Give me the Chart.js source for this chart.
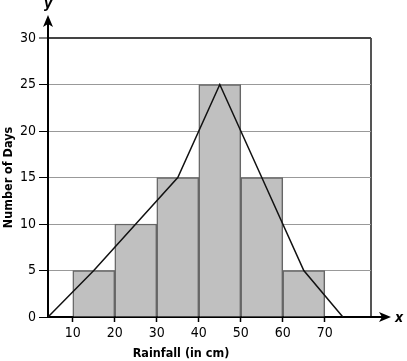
<!DOCTYPE html>
<html>
<head>
<meta charset="utf-8">
<script src="https://cdn.jsdelivr.net/npm/chart.js@4.4.0/dist/chart.umd.min.js"></script>
<style>
  body { margin: 0; background: #fff; }
  #wrap { width: 407px; height: 361px; }
</style>
</head>
<body>
<div id="wrap"><canvas id="rainChart" width="407" height="361"></canvas></div>
<script>
const binCenters = [15, 25, 35, 45, 55, 65];
const dayCounts = [5, 10, 15, 25, 15, 5];
// Polygone des effectifs (extrémités posées sur l'axe)
const polyX = [4.1, 15, 25, 35, 45, 55, 65, 74.3];
const polyY = [0, 5, 10, 15, 25, 15, 5, 0];
const xTicks = [10, 20, 30, 40, 50, 60, 70];
const xLabel = 'Rainfall (in cm)';
const yLabel = 'Number of Days';

const FONT = '"DejaVu Sans Condensed", "DejaVu Sans", sans-serif';
const X_MAX = 81;

// Flèches des axes + titre de l'axe x
const axesDecor = {
    id: 'axesDecor',
    afterDraw(chart) {
        const ctx = chart.ctx;
        const area = chart.chartArea;
        const x0 = chart.scales.x.getPixelForValue(chart.scales.x.min);
        const y0 = chart.scales.y.getPixelForValue(0);
        ctx.save();
        ctx.strokeStyle = '#000';
        ctx.fillStyle = '#000';
        ctx.lineWidth = 2;

        // flèche verticale
        ctx.beginPath();
        ctx.moveTo(x0, area.top);
        ctx.lineTo(x0, 22);
        ctx.stroke();
        ctx.beginPath();
        ctx.moveTo(x0, 15);
        ctx.lineTo(x0 + 5, 27);
        ctx.lineTo(x0, 24);
        ctx.lineTo(x0 - 5, 27);
        ctx.closePath();
        ctx.fill();

        // flèche horizontale
        ctx.beginPath();
        ctx.moveTo(area.right, y0);
        ctx.lineTo(384, y0);
        ctx.stroke();
        ctx.beginPath();
        ctx.moveTo(391, y0);
        ctx.lineTo(379, y0 - 5);
        ctx.lineTo(382, y0);
        ctx.lineTo(379, y0 + 5);
        ctx.closePath();
        ctx.fill();

        // lettres x et y
        ctx.font = 'italic bold 14px ' + FONT;
        ctx.textAlign = 'center';
        ctx.textBaseline = 'middle';
        ctx.fillText('y', x0, 4);
        ctx.fillText('x', 399, y0 + 1);

        // titre axe x
        ctx.font = 'bold 12.5px ' + FONT;
        ctx.fillText(xLabel, 181, 354);
        ctx.restore();
    }
};

const config = {
    data: {
        datasets: [{
            type: 'line',
            data: polyX.map((x, i) => ({ x: x, y: polyY[i] })),
            borderColor: '#111',
            borderWidth: 1.5,
            pointRadius: 0,
            tension: 0,
            fill: false,
            order: 0
        }, {
            type: 'bar',
            data: binCenters.map((x, i) => ({ x: x, y: dayCounts[i] })),
            backgroundColor: '#c0c0c0',
            borderColor: '#666',
            borderWidth: 1.5,
            barPercentage: 1,
            categoryPercentage: 1,
            grouped: false,
            order: 1
        }]
    },
    options: {
        responsive: false,
        animation: false,
        layout: { padding: { top: 38, right: 36, left: 0, bottom: 0 } },
        plugins: {
            legend: { display: false },
            tooltip: { enabled: false }
        },
        scales: {
            x: {
                type: 'linear',
                offset: false,
                min: 4.1,
                max: X_MAX,
                afterBuildTicks: scale => {
                    scale.ticks = xTicks.concat([X_MAX]).map(v => ({ value: v }));
                },
                afterFit: scale => { scale.height = 44; },
                ticks: {
                    color: '#000',
                    font: { family: FONT, size: 14 },
                    padding: 3,
                    maxRotation: 0,
                    callback: v => (v === X_MAX ? '' : v)
                },
                grid: {
                    offset: false,
                    color: c => (c.tick && c.tick.value === X_MAX ? '#555' : 'rgba(0,0,0,0)'),
                    lineWidth: c => (c.tick && c.tick.value === X_MAX ? 2 : 1),
                    tickColor: c => (c.tick && c.tick.value === X_MAX ? 'rgba(0,0,0,0)' : '#000'),
                    tickLength: 5,
                    tickWidth: 1.5
                },
                border: { color: '#000', width: 2 }
            },
            y: {
                min: 0,
                max: 30,
                afterFit: scale => { scale.width = 48; },
                ticks: {
                    stepSize: 5,
                    color: '#000',
                    font: { family: FONT, size: 14 },
                    padding: 3
                },
                grid: {
                    color: c => {
                        if (!c.tick) return '#999';
                        if (c.tick.value === 0) return 'rgba(0,0,0,0)';
                        if (c.tick.value === 30) return '#444';
                        return '#999';
                    },
                    lineWidth: c => (c.tick && c.tick.value === 30 ? 2 : 1),
                    tickColor: '#000',
                    tickLength: 9,
                    tickWidth: 1
                },
                border: { color: '#000', width: 2 },
                title: {
                    display: true,
                    text: yLabel,
                    color: '#000',
                    font: { family: FONT, size: 12.5, weight: 'bold' },
                    padding: { top: 1.5, bottom: 0 }
                }
            }
        }
    },
    plugins: [axesDecor]
};

window.rainChart = new Chart(document.getElementById('rainChart').getContext('2d'), config);
</script>
</body>
</html>
